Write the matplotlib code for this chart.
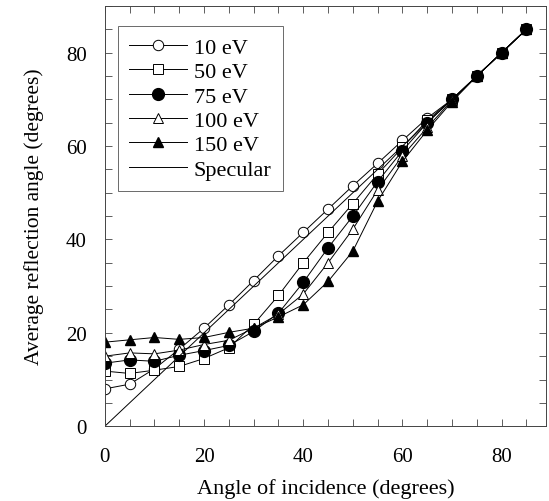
import matplotlib
matplotlib.use("Agg")
import matplotlib.pyplot as plt
from matplotlib.ticker import MultipleLocator

plt.rcParams['font.family'] = ['Liberation Serif', 'DejaVu Serif']

# angle of incidence (degrees)
incidence = [0, 5, 10, 15, 20, 25, 30, 35, 40, 45, 50, 55, 60, 65, 70, 75, 80, 85]

# average reflection angle for each beam energy
ev10 = [8, 9, 12.3, 16.5, 21, 26, 31.2, 36.5, 41.5, 46.5, 51.5, 56.3, 61.2, 66, 70, 75, 80, 85]
ev50 = [11.8, 11.3, 12, 12.8, 14.5, 16.8, 21.8, 28, 35, 41.5, 47.7, 54, 59.7, 65.5, 70, 75, 80, 85]
ev75 = [13.5, 14.2, 13.9, 15.2, 16.2, 17.3, 20.3, 24.2, 30.8, 38.2, 45, 52.4, 59, 65, 70, 75, 80, 85]
ev100 = [15, 15.7, 15.5, 16.3, 17.5, 18.4, 21, 24, 28.3, 35, 42.2, 50.6, 57.9, 64, 69.8, 75, 80, 85]
ev150 = [18, 18.5, 19, 18.6, 19, 20.1, 21, 23.4, 26, 31, 37.5, 48.2, 56.7, 63.4, 69.5, 75, 80, 85]
specular = [0, 85]

fig = plt.figure(figsize=(5.49, 5.02), dpi=100)
ax = fig.add_axes([0.191, 0.149, 0.804, 0.837])

lw = 0.7
ax.plot(incidence, ev10, '-o', color='black', lw=lw, ms=7.5, mfc='white', mew=0.7, label='10 eV')
ax.plot(incidence, ev50, '-s', color='black', lw=lw, ms=7, mfc='white', mew=0.7, label='50 eV')
ax.plot(incidence, ev75, '-o', color='black', lw=lw, ms=8.5, mfc='black', label='75 eV')
ax.plot(incidence, ev100, '-^', color='black', lw=lw, ms=7.5, mfc='white', mew=0.7, label='100 eV')
ax.plot(incidence, ev150, '-^', color='black', lw=lw, ms=7.5, mfc='black', label='150 eV')
ax.plot(specular, specular, '-', color='black', lw=lw, label='Specular')

ax.set_xlim(0, 89)
ax.set_ylim(0, 90)
ax.xaxis.set_major_locator(MultipleLocator(20))
ax.xaxis.set_minor_locator(MultipleLocator(5))
ax.yaxis.set_major_locator(MultipleLocator(20))
ax.yaxis.set_minor_locator(MultipleLocator(5))
ax.tick_params(which='both', direction='in', top=True, right=True,
               length=5, width=0.6, color='#444444', labelsize=15)
ax.tick_params(axis='x', pad=15)
ax.tick_params(axis='y', pad=13)
for s in ax.spines.values():
    s.set_linewidth(0.7)
    s.set_color('#444444')

ax.set_xlabel('Angle of incidence (degrees)', fontsize=16, labelpad=9)
ax.set_ylabel('Average reflection angle (degrees)', fontsize=15.5, labelpad=16)

leg = ax.legend(loc='upper left', bbox_to_anchor=(0.03, 0.952), fontsize=16,
                frameon=True, fancybox=False, edgecolor='#444444',
                handlelength=2.6, labelspacing=0.17, borderpad=0.5,
                handletextpad=0.3, borderaxespad=0)
leg.get_frame().set_linewidth(0.7)

fig.savefig('out.png', dpi=100)
